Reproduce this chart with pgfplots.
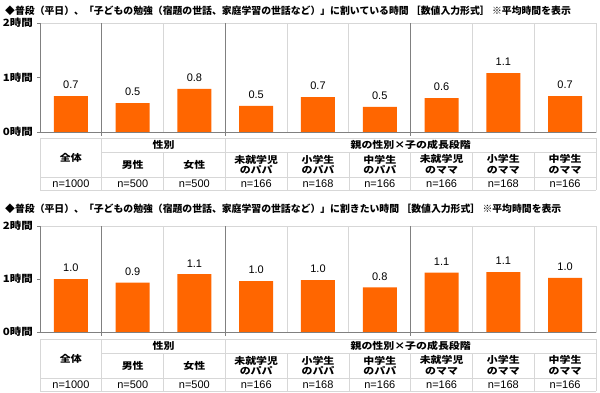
\documentclass[border=0pt]{standalone}
\usepackage{fontspec}
\usepackage{pgfplots}
\pgfplotsset{compat=1.18}
\setmainfont{Liberation Sans}
\newfontfamily\jp{Noto Sans CJK JP}
\newfontfamily\jpw{Noto Sans CJK JP}[FakeStretch=1.15]
\definecolor{barc}{RGB}{255,102,0}
\definecolor{gridc}{RGB}{215,215,215}
\definecolor{darkc}{RGB}{128,128,128}
\pgfplotsset{panel/.style={
  scale only axis, width=556pt,
  xmin=-0.5, xmax=8.5, ymin=0, ymax=2,
  ytick={0,1,2}, yticklabels={0時間,1時間,2時間},
  yticklabel style={font=\jpw\bfseries\fontsize{10}{10}\selectfont, inner sep=0pt, xshift=-4pt},
  ytick style={draw=darkc, line width=0.8pt}, tick align=outside, major tick length=3pt,
  ytick pos=left,
  xtick={0.5,1.5,...,7.5}, xticklabels={}, xtick style={draw=none},
  xmajorgrids, grid style={gridc, line width=0.8pt},
  axis line style={gridc, line width=0.8pt},
  ybar, bar width=34pt,
  nodes near coords, point meta=explicit symbolic,
  every node near coord/.append style={font=\fontsize{11}{11}\selectfont, anchor=south, inner sep=0pt, yshift=7pt, text=black},
  clip=false,
}}
\newcommand\seps{%
  \draw[darkc, line width=0.8pt] (rel axis cs:0,1) -- (rel axis cs:0,0) -- (rel axis cs:1,0);
  \draw[darkc, line width=0.8pt] (axis cs:0.5,2) -- ([yshift=-4pt]axis cs:0.5,0);
  \draw[darkc, line width=0.8pt] (axis cs:2.5,2) -- ([yshift=-4pt]axis cs:2.5,0);
  \draw[darkc, line width=0.8pt] (axis cs:5.5,2) -- ([yshift=-4pt]axis cs:5.5,0);
}
\newcommand\tbl[1]{%
  \pgfmathsetmacro\T{#1}
  \pgfmathsetmacro\Ta{#1+14}
  \pgfmathsetmacro\Tb{#1+39}
  \pgfmathsetmacro\Tc{#1+52}
  \begin{scope}[gridc, line width=0.8pt]
  \draw (40pt,-\T pt) -- (596pt,-\T pt);
  \draw (101.8pt,-\Ta pt) -- (596pt,-\Ta pt);
  \draw (40pt,-\Tb pt) -- (596pt,-\Tb pt);
  \draw (40pt,-\Tc pt) -- (596pt,-\Tc pt);
  \foreach \x in {40,101.8,225.3,596}{\draw (\x pt,-\T pt) -- (\x pt,-\Tc pt);}
  \foreach \x in {163.6,287.1,348.9,410.7,472.4,534.2}{\draw (\x pt,-\Ta pt) -- (\x pt,-\Tc pt);}
  \end{scope}
  \pgfmathsetmacro\ya{-(\T+\Tb)/2}
  \pgfmathsetmacro\yb{-(\T+\Ta)/2}
  \pgfmathsetmacro\yc{-(\Ta+\Tb)/2}
  \pgfmathsetmacro\yd{-(\Tb+\Tc)/2}
  \begin{scope}[every node/.style={inner sep=0pt, align=center, font=\jpw\bfseries\fontsize{9.5}{10.5}\selectfont}]
  \node at (70.9pt,\ya pt) {全体};
  \node at (163.6pt,\yb pt) {性別};
  \node at (410.7pt,\yb pt) {親の性別×子の成長段階};
  \node at (132.7pt,\yc pt) {男性};
  \node at (194.4pt,\yc pt) {女性};
  \node at (256.2pt,\yc pt) {未就学児\\のパパ};
  \node at (318.0pt,\yc pt) {小学生\\のパパ};
  \node at (379.8pt,\yc pt) {中学生\\のパパ};
  \node at (441.6pt,\yc pt) {未就学児\\のママ};
  \node at (503.3pt,\yc pt) {小学生\\のママ};
  \node at (565.1pt,\yc pt) {中学生\\のママ};
  \end{scope}
  \begin{scope}[every node/.style={inner sep=0pt, font=\fontsize{11}{11}\selectfont}]
  \node at (70.9pt,\yd pt) {n=1000};
  \node at (132.7pt,\yd pt) {n=500};
  \node at (194.4pt,\yd pt) {n=500};
  \node at (256.2pt,\yd pt) {n=166};
  \node at (318.0pt,\yd pt) {n=168};
  \node at (379.8pt,\yd pt) {n=166};
  \node at (441.6pt,\yd pt) {n=166};
  \node at (503.3pt,\yd pt) {n=168};
  \node at (565.1pt,\yd pt) {n=166};
  \end{scope}
}
\begin{document}
\begin{tikzpicture}
\useasboundingbox[fill=white] (0pt,0pt) rectangle (600pt,-392pt);
\node[anchor=west, inner sep=0pt, font=\jp\bfseries\fontsize{9.85}{10}\selectfont] at (5pt,-11pt) {◆普段（平日）、「子どもの勉強（宿題の世話、家庭学習の世話など）」に割いている時間 ［数値入力形式］ ※平均時間を表示};
\begin{axis}[panel, height=109pt, at={(40pt,-132pt)}, anchor=south west]
\addplot[fill=barc, draw=none] coordinates {(0,0.66)[0.7] (1,0.53)[0.5] (2,0.79)[0.8] (3,0.48)[0.5] (4,0.64)[0.7] (5,0.46)[0.5] (6,0.62)[0.6] (7,1.08)[1.1] (8,0.66)[0.7]};
\seps
\end{axis}
\tbl{138}
\node[anchor=west, inner sep=0pt, font=\jp\bfseries\fontsize{9.85}{10}\selectfont] at (5pt,-209pt) {◆普段（平日）、「子どもの勉強（宿題の世話、家庭学習の世話など）」に割きたい時間 ［数値入力形式］ ※平均時間を表示};
\begin{axis}[panel, height=106pt, at={(40pt,-332pt)}, anchor=south west]
\addplot[fill=barc, draw=none] coordinates {(0,1.00)[1.0] (1,0.93)[0.9] (2,1.09)[1.1] (3,0.96)[1.0] (4,0.98)[1.0] (5,0.84)[0.8] (6,1.12)[1.1] (7,1.13)[1.1] (8,1.02)[1.0]};
\seps
\end{axis}
\tbl{339}
\end{tikzpicture}
\end{document}
